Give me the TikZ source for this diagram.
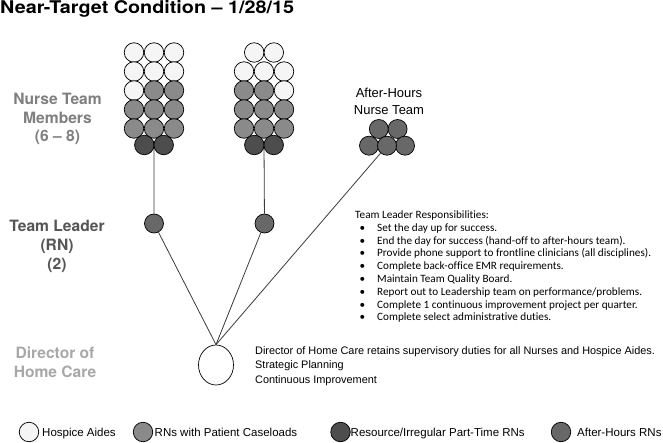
\documentclass[tikz,border=0pt]{standalone}
\usepackage{fontspec}
\setmainfont{Liberation Sans}
\newfontfamily\heros{TeX Gyre Heros}
\newfontfamily\herosw[FakeStretch=1.13]{TeX Gyre Heros}
\newfontfamily\calib[Ligatures=NoCommon]{Carlito}
\usetikzlibrary{shapes.geometric,calc}
\pgfdeclarelayer{bg}
\pgfsetlayers{bg,main}
\definecolor{aidec}{HTML}{F5F5F5}
\definecolor{rnc}{HTML}{8A8A8A}
\definecolor{resc}{HTML}{4D4D4D}
\definecolor{ahc}{HTML}{686868}
\definecolor{linec}{HTML}{3A3A3A}
\definecolor{nursec}{HTML}{7F7F7F}
\definecolor{leadc}{HTML}{555555}
\definecolor{dirc}{HTML}{A8A8A8}
\newcommand\rbul{\makebox[22pt][l]{\hspace{4.5pt}\textbullet}}
\begin{document}
\begin{tikzpicture}[x=1pt,y=-1pt,
  dot/.style={circle,draw=black,line width=0.7pt,minimum size=19.5pt,inner sep=0pt},
  aide/.style={dot,fill=aidec},
  rn/.style={dot,fill=rnc},
  res/.style={dot,fill=resc},
  ahr/.style={dot,fill=ahc},
  conn/.style={draw=linec,line width=0.8pt},
  lbl/.style={anchor=base,inner sep=0pt,font=\heros\bfseries\fontsize{15.6}{18}\selectfont},
  resp/.style={anchor=base west,inner sep=0pt,font=\calib\fontsize{11.2}{13}\selectfont},
  dtxt/.style={anchor=base west,inner sep=0pt,font=\fontsize{10.9}{12}\selectfont},
  legt/.style={anchor=base west,inner sep=0pt,font=\fontsize{11.5}{13}\selectfont}
]
\useasboundingbox (0,0) rectangle (663,443);

% title
\node[anchor=base west,inner sep=0pt,font=\herosw\bfseries\fontsize{17.5}{20}\selectfont] (title) at (0,13.3) {Near-Target Condition – 1/28/15};

% left labels
\node[lbl,text=nursec] (n1) at (57.5,105) {Nurse Team};
\node[lbl,text=nursec] (n2) at (57.5,123.5) {Members};
\node[lbl,text=nursec] (n3) at (57.5,142) {(6 – 8)};
\node[lbl,text=leadc] (l1) at (57,231.5) {Team Leader};
\node[lbl,text=leadc] (l2) at (57,250.5) {(RN)};
\node[lbl,text=leadc] (l3) at (57,269.5) {(2)};
\node[lbl,text=dirc] (d1) at (55,358) {Director of};
\node[lbl,text=dirc] (d2) at (55,377) {Home Care};

% group 1
\foreach \st [count=\k from 0] in {aide,aide,aide,aide,aide,aide,aide,rn,rn,rn,rn,rn,rn,rn,rn}{
  \pgfmathsetmacro\xx{134+20*mod(\k,3)}
  \pgfmathsetmacro\yy{52.5+19*int(\k/3)}
  \node[\st] (p\k) at (\xx,\yy) {};
}
\node[res] (da1) at (144.3,145) {};
\node[res] (db1) at (163.7,145) {};

% group 2
\node[aide] (q1) at (254.2,52.5) {};
\node[aide] (q2) at (273.8,52.5) {};
\foreach \st [count=\k from 0] in {aide,aide,aide,rn,rn,aide,rn,rn,rn,rn,rn,rn}{
  \pgfmathsetmacro\xx{244+20*mod(\k,3)}
  \pgfmathsetmacro\yy{71.5+19*int(\k/3)}
  \node[\st] (r\k) at (\xx,\yy) {};
}
\node[res] (da2) at (254.3,145) {};
\node[res] (db2) at (273.7,145) {};

% after-hours team
\node[anchor=base,inner sep=0pt,font=\fontsize{13}{15}\selectfont] (aht1) at (389,98) {After-Hours};
\node[anchor=base,inner sep=0pt,font=\fontsize{13}{15}\selectfont] (aht2) at (389,114.5) {Nurse Team};
\node[ahr,minimum size=19pt] (ah1) at (378.8,129) {};
\node[ahr,minimum size=19pt] (ah2) at (397.6,129) {};
\node[ahr,minimum size=19pt] (ah3) at (369,145.7) {};
\node[ahr,minimum size=19pt] (ah5) at (405,145.7) {};
\node[ahr,minimum size=19pt] (ah4) at (387,145.7) {};

% team leaders
\node[ahr,minimum size=19pt] (tl1) at (154,223.5) {};
\node[ahr,minimum size=19pt] (tl2) at (264.5,223.5) {};

% director
\node[ellipse,draw=black,line width=0.7pt,fill=white,minimum width=35pt,minimum height=40pt,inner sep=0pt] (dir) at (216,365) {};

% connectors
\begin{pgfonlayer}{bg}
\draw[conn] ($(da1)!.5!(db1)$) -- (tl1);
\draw[conn] ($(da2)!.5!(db2)$) -- (tl2);
\end{pgfonlayer}
\draw[conn] (tl1) -- (dir.north);
\draw[conn] (tl2) -- (dir.north);
\draw[conn] (ah4) -- (dir.north);

% responsibilities
\node[resp] (rs0) at (355,218.5) {Team Leader Responsibilities:};
\foreach \t [count=\i] in {Set the day up for success.,
  End the day for success (hand-off to after-hours team).,
  Provide phone support to frontline clinicians (all disciplines).,
  Complete back-office EMR requirements.,
  Maintain Team Quality Board.,
  Report out to Leadership team on performance/problems.,
  Complete 1 continuous improvement project per quarter.,
  Complete select administrative duties.}{
  \node[resp] (rs\i) at (355,218.5+12.8*\i) {\rbul\t};
}

% director text
\node[dtxt] (dt1) at (255,354) {Director of Home Care retains supervisory duties for all Nurses and Hospice Aides.};
\node[dtxt] (dt2) at (255,368.5) {Strategic Planning};
\node[dtxt] (dt3) at (255,383) {Continuous Improvement};

% legend
\node[aide] (lg1) at (29,432) {};
\node[legt] (lt1) at (42,436) {Hospice Aides};
\node[rn] (lg2) at (143,432) {};
\node[legt] (lt2) at (154.5,436) {RNs with Patient Caseloads};
\node[res] (lg3) at (340.5,432) {};
\node[legt] (lt3) at (350.5,436) {Resource/Irregular Part-Time RNs};
\node[ahr] (lg4) at (561,432) {};
\node[legt] (lt4) at (577,436) {After-Hours RNs};
\end{tikzpicture}
\end{document}
